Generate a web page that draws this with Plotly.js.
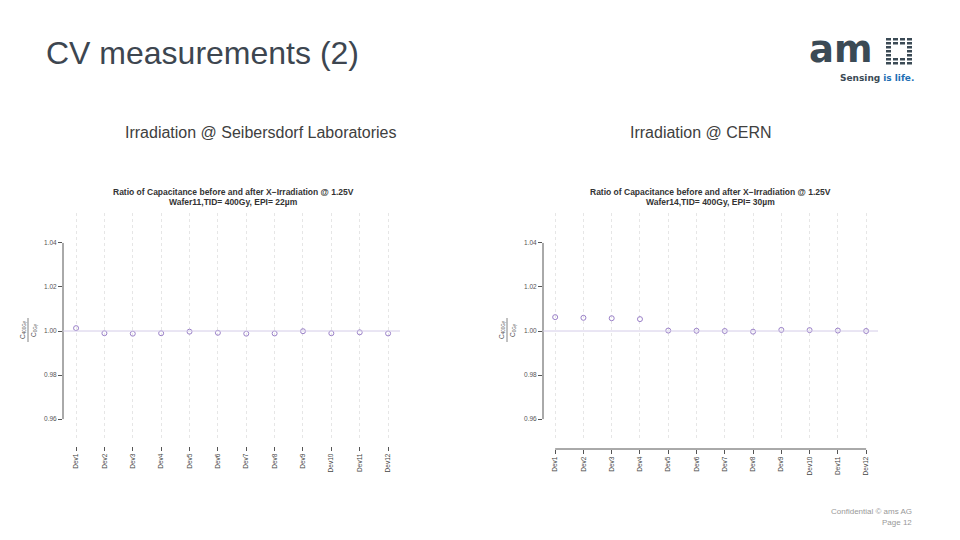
<!DOCTYPE html>
<html>
<head>
<meta charset="utf-8">
<script src="https://cdn.plot.ly/plotly-3.0.1.min.js"></script>
<style>html,body{margin:0;padding:0;background:#fff;}#chart{width:960px;height:540px;}</style>
</head>
<body>
<div id="chart"></div>
<script>
var devices = ["Dev1","Dev2","Dev3","Dev4","Dev5","Dev6","Dev7","Dev8","Dev9","Dev10","Dev11","Dev12"];
var ratioSeibersdorf = [1.0013, 0.9990, 0.9988, 0.9990, 0.9997, 0.9992, 0.9988, 0.9989, 0.9999, 0.9990, 0.9994, 0.9989];
var ratioCERN = [1.0063, 1.0060, 1.0058, 1.0054, 1.0002, 1.0001, 1.0000, 0.9997, 1.0005, 1.0004, 1.0002, 1.0000];
var yTicks = [0.96, 0.98, 1.00, 1.02, 1.04];
var baseline = 1.00;

var W = 960, H = 540;
function px(x){return x/W;}
function py(y){return 1 - y/H;}

var markerColor = "#9a80c8";
var axisColor = "#555555";
var gridColor = "#e6e6e6";
var font = "Liberation Sans, Arial, sans-serif";

var traces = [
  {x: devices, y: ratioSeibersdorf, xaxis: "x", yaxis: "y", type: "scatter", mode: "markers",
   marker: {symbol: "circle-open", size: 5, color: markerColor, line: {width: 1, color: markerColor}}, hoverinfo: "x+y"},
  {x: devices, y: ratioCERN, xaxis: "x2", yaxis: "y2", type: "scatter", mode: "markers",
   marker: {symbol: "circle-open", size: 5, color: markerColor, line: {width: 1, color: markerColor}}, hoverinfo: "x+y"}
];

var yRange = [0.9505, 1.0536];
function xa(domain, pos, range){
  return {domain: domain, anchor: "free", position: pos, type: "category", range: range,
    categoryorder: "array", categoryarray: devices,
    showgrid: true, gridcolor: gridColor, griddash: "dot", gridwidth: 1,
    zeroline: false, showline: false, ticks: "outside", ticklen: 4, tickcolor: axisColor, tickwidth: 1,
    tickangle: -90, tickfont: {size: 6.5, color: "#444", family: font}, fixedrange: true};
}
function ya(domain, anchor){
  return {domain: domain, anchor: anchor, range: yRange, tickvals: yTicks, tickformat: ".2f",
    showgrid: false, zeroline: false, showline: false, ticks: "outside", ticklen: 4, tickcolor: axisColor,
    tickwidth: 1, tickfont: {size: 6.5, color: "#555", family: font}, fixedrange: true};
}

var yDom = [py(440), py(213)];
var layout = {
  width: W, height: H, margin: {l: 0, r: 0, t: 0, b: 0},
  paper_bgcolor: "#ffffff", plot_bgcolor: "rgba(0,0,0,0)", showlegend: false,
  font: {family: font},
  xaxis: xa([px(63), px(400)], py(446), [-0.46, 11.42]),
  yaxis: ya(yDom, "x"),
  xaxis2: xa([px(543), px(878)], py(449), [-0.43, 11.42]),
  yaxis2: ya(yDom, "x2"),
  shapes: [
    {type: "line", xref: "x domain", yref: "y", x0: 0, x1: 0, y0: yTicks[0], y1: yTicks[yTicks.length-1], line: {color: axisColor, width: 1}},
    {type: "line", xref: "x2 domain", yref: "y2", x0: 0, x1: 0, y0: yTicks[0], y1: yTicks[yTicks.length-1], line: {color: axisColor, width: 1}},
    {type: "line", xref: "x2", yref: "paper", x0: devices[0], x1: devices[devices.length-1], y0: py(449), y1: py(449), line: {color: axisColor, width: 1}},
    {type: "line", xref: "x domain", yref: "y", x0: 0, x1: 1, y0: baseline, y1: baseline, line: {color: "#d4cce8", width: 1}},
    {type: "line", xref: "x2 domain", yref: "y2", x0: 0, x1: 1, y0: baseline, y1: baseline, line: {color: "#d4cce8", width: 1}},
    {type: "line", xref: "paper", yref: "paper", x0: px(28), x1: px(28), y0: py(342), y1: py(318), line: {color: "#666", width: 0.8}},
    {type: "line", xref: "paper", yref: "paper", x0: px(507), x1: px(507), y0: py(342), y1: py(318), line: {color: "#666", width: 0.8}}
  ],
  annotations: [
    {text: "CV measurements (2)", xref: "paper", yref: "paper", x: px(44), y: py(53), xanchor: "left", yanchor: "middle",
     showarrow: false, font: {size: 32, color: "#3d4650", family: font}},
    {text: "Irradiation @ Seibersdorf Laboratories", xref: "paper", yref: "paper", x: px(123), y: py(133), xanchor: "left", yanchor: "middle",
     showarrow: false, font: {size: 16, color: "#404040", family: font}},
    {text: "Irradiation @ CERN", xref: "paper", yref: "paper", x: px(628), y: py(133), xanchor: "left", yanchor: "middle",
     showarrow: false, font: {size: 16, color: "#404040", family: font}},
    {text: "<b>Ratio of Capacitance before and after X\u2212Irradiation @ 1.25V</b>", xref: "paper", yref: "paper", x: px(233), y: py(192),
     xanchor: "center", yanchor: "middle", showarrow: false, font: {size: 8.5, color: "#333", family: font}},
    {text: "<b>Wafer11,TID= 400Gy, EPI= 22\u00b5m</b>", xref: "paper", yref: "paper", x: px(233), y: py(202),
     xanchor: "center", yanchor: "middle", showarrow: false, font: {size: 8.5, color: "#333", family: font}},
    {text: "<b>Ratio of Capacitance before and after X\u2212Irradiation @ 1.25V</b>", xref: "paper", yref: "paper", x: px(710), y: py(192),
     xanchor: "center", yanchor: "middle", showarrow: false, font: {size: 8.5, color: "#333", family: font}},
    {text: "<b>Wafer14,TID= 400Gy, EPI= 30\u00b5m</b>", xref: "paper", yref: "paper", x: px(710), y: py(202),
     xanchor: "center", yanchor: "middle", showarrow: false, font: {size: 8.5, color: "#333", family: font}},
    {text: "C<sub>400Gy</sub>", xref: "paper", yref: "paper", x: px(23), y: py(330), textangle: -90, xanchor: "center", yanchor: "middle",
     showarrow: false, font: {size: 6.5, color: "#555", family: font}},
    {text: "C<sub>0Gy</sub>", xref: "paper", yref: "paper", x: px(34), y: py(330), textangle: -90, xanchor: "center", yanchor: "middle",
     showarrow: false, font: {size: 6.5, color: "#555", family: font}},
    {text: "C<sub>400Gy</sub>", xref: "paper", yref: "paper", x: px(502), y: py(330), textangle: -90, xanchor: "center", yanchor: "middle",
     showarrow: false, font: {size: 6.5, color: "#555", family: font}},
    {text: "C<sub>0Gy</sub>", xref: "paper", yref: "paper", x: px(513), y: py(330), textangle: -90, xanchor: "center", yanchor: "middle",
     showarrow: false, font: {size: 6.5, color: "#555", family: font}},
    {text: "<b>am</b>", xref: "paper", yref: "paper", x: px(807), y: py(49), xanchor: "left", yanchor: "middle",
     showarrow: false, font: {size: 37, color: "#3b4a55", family: "DejaVu Sans, sans-serif"}},
    {text: "<b>Sensing</b> <b><span style='color:#1e6fb4'>is life.</span></b>", xref: "paper", yref: "paper", x: px(916), y: py(78), xanchor: "right", yanchor: "middle",
     showarrow: false, font: {size: 9, color: "#3b4a55", family: "DejaVu Sans, sans-serif"}},
    {text: "Confidential \u00a9 ams AG", xref: "paper", yref: "paper", x: px(914), y: py(511), xanchor: "right", yanchor: "middle",
     showarrow: false, font: {size: 8, color: "#999", family: font}},
    {text: "Page 12", xref: "paper", yref: "paper", x: px(914), y: py(522), xanchor: "right", yanchor: "middle",
     showarrow: false, font: {size: 8, color: "#999", family: font}}
  ]
};

var cols = 4, rows = 7;
for (var c = 0; c < cols; c++) {
  for (var r = 0; r < rows; r++) {
    if ((c === 1 || c === 2) && r > 1 && r < 5) continue;
    var x0 = 886 + c * 7, y0 = 38 + r * 4;
    layout.shapes.push({type: "rect", xref: "paper", yref: "paper", x0: px(x0), x1: px(x0 + 5), y0: py(y0 + 2.5), y1: py(y0),
      line: {width: 0}, fillcolor: "#3b4a55"});
  }
}

Plotly.newPlot("chart", traces, layout, {displayModeBar: false, staticPlot: true});
</script>
</body>
</html>
